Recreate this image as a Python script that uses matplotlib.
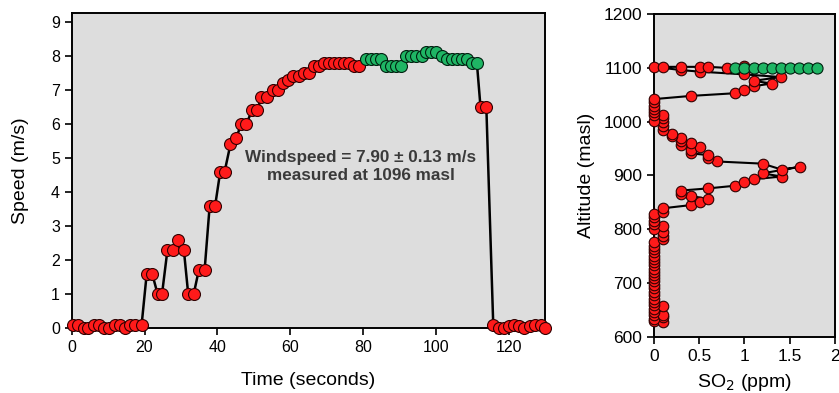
import matplotlib
matplotlib.use("Agg")
import matplotlib.pyplot as plt

plt.rcParams['font.family'] = ['Liberation Sans', 'DejaVu Sans']

# ---- wind speed vs time (left panel) ----
time_red1 = [0.3, 1.7, 3.3, 4.6, 6.1, 7.5, 8.9, 10.3, 11.8, 13.2, 14.6, 16.1, 17.5, 19.2,
             20.6, 22.1, 23.6, 24.8, 26.3, 27.9, 29.2, 30.8, 32.0, 33.5, 34.9, 36.5,
             37.9, 39.4, 40.8, 42.0, 43.6, 45.2, 46.6, 48.0, 49.5, 51.0, 52.1, 53.7,
             55.2, 56.6, 58.0, 59.4, 60.7, 62.3, 63.9, 65.3, 66.6, 68.0, 69.4, 70.8,
             72.1, 73.5, 74.9, 76.3, 77.6, 79.0]
speed_red1 = [0.1, 0.1, 0.0, 0.0, 0.1, 0.1, 0.0, 0.0, 0.1, 0.1, 0.0, 0.1, 0.1, 0.1,
              1.6, 1.6, 1.0, 1.0, 2.3, 2.3, 2.6, 2.3, 1.0, 1.0, 1.7, 1.7,
              3.6, 3.6, 4.6, 4.6, 5.4, 5.6, 6.0, 6.0, 6.4, 6.4, 6.8, 6.8,
              7.0, 7.0, 7.2, 7.3, 7.4, 7.4, 7.5, 7.5, 7.7, 7.7, 7.8, 7.8,
              7.8, 7.8, 7.8, 7.8, 7.7, 7.7]
time_green = [80.8, 82.2, 83.6, 85.0, 86.4, 87.7, 89.1, 90.5, 91.9, 93.3, 94.7, 96.1,
              97.4, 98.8, 100.2, 101.6, 103.0, 104.4, 105.8, 107.2, 108.5, 109.9, 111.3]
speed_green = [7.9, 7.9, 7.9, 7.9, 7.7, 7.7, 7.7, 7.7, 8.0, 8.0, 8.0, 8.0,
               8.1, 8.1, 8.1, 8.0, 7.9, 7.9, 7.9, 7.9, 7.9, 7.8, 7.8]
time_red2 = [112.3, 113.9, 115.8, 117.3, 118.7, 120.1, 121.4, 122.8, 124.2, 125.8,
             127.4, 128.8, 130.1]
speed_red2 = [6.5, 6.5, 0.1, 0.0, 0.0, 0.05, 0.1, 0.05, 0.0, 0.05, 0.1, 0.1, 0.0]

# ---- SO2 vs altitude (right panel) ----
so2_red = [0, 0.1, 0.1, 0, 0, 0.1, 0, 0, 0.1, 0, 0, 0, 0, 0, 0, 0, 0, 0, 0, 0, 0, 0,
           0, 0, 0, 0, 0, 0, 0, 0.1, 0.1, 0.1, 0, 0.1, 0, 0, 0, 0, 0.1, 0.1,
           0.41, 0.51, 0.6, 0.41, 0.3, 0.3, 0.6, 0.9, 1.0, 1.1, 1.41, 1.2, 1.61, 1.41,
           1.2, 0.7, 0.6, 0.6, 0.41, 0.41, 0.51, 0.41, 0.3, 0.3, 0.3, 0.2, 0.2,
           0.1, 0.1, 0.1, 0.1, 0.1, 0, 0, 0, 0, 0, 0, 0,
           0.41, 0.9, 1.0, 1.1, 1.3, 1.1, 1.4, 1.0, 0.51, 0.3,
           0, 0.1, 0.3, 0.51, 0.6, 0.81, 1.0]
alt_red = [630, 628, 636, 634, 640, 641, 646, 652, 657, 660, 665, 671, 677, 684, 691,
           697, 703, 709, 715, 721, 727, 733, 739, 745, 751, 757, 763, 769, 776,
           781, 787, 794, 800, 806, 809, 816, 822, 829, 832, 839,
           845, 851, 856, 862, 866, 872, 876, 881, 887, 893, 898, 904, 916, 911,
           922, 926, 932, 938, 941, 948, 953, 961, 957, 964, 969, 973, 978,
           985, 992, 999, 1006, 1012, 1002, 1012, 1018, 1024, 1030, 1036, 1042,
           1048, 1053, 1059, 1066, 1071, 1076, 1083, 1088, 1093, 1096,
           1102, 1102, 1102, 1102, 1102, 1100, 1104]
so2_green = [0.9, 1.0, 1.1, 1.2, 1.3, 1.4, 1.5, 1.6, 1.7, 1.8]
alt_green = [1100, 1100, 1100, 1100, 1100, 1100, 1100, 1100, 1100, 1100]

RED = '#ff1a1a'
GREEN = '#1fb564'
BG = '#dddddd'

fig = plt.figure(figsize=(8.39, 3.93), dpi=100)

# left panel
ax1 = fig.add_axes([0.0855, 0.165, 0.564, 0.801])
ax1.set_facecolor(BG)
all_t = time_red1 + time_green + time_red2
all_v = speed_red1 + speed_green + speed_red2
ax1.plot(all_t, all_v, color='black', lw=1.8, zorder=2, clip_on=False)
ax1.plot(time_red1, speed_red1, 'o', ms=8.6, mfc=RED, mec='#300000', mew=0.8, zorder=3, clip_on=False)
ax1.plot(time_red2, speed_red2, 'o', ms=8.6, mfc=RED, mec='#300000', mew=0.8, zorder=3, clip_on=False)
ax1.plot(time_green, speed_green, 'o', ms=8.6, mfc=GREEN, mec='#002010', mew=0.8, zorder=4, clip_on=False)
ax1.set_xlim(0, 130)
ax1.set_ylim(0, 9.25)
ax1.set_xticks(range(0, 121, 20))
ax1.set_yticks(range(0, 10))
ax1.tick_params(direction='out', length=5, width=1.2, labelsize=11.5)
ax1.set_xlabel('Time (seconds)', fontsize=14, labelpad=12)
ax1.set_ylabel('Speed (m/s)', fontsize=14, labelpad=16)
ax1.text(79.4, 4.75, 'Windspeed = 7.90 \u00b1 0.13 m/s\nmeasured at 1096 masl',
         ha='center', va='center', fontsize=12.3, fontweight='bold', color='#3a3a3a',
         linespacing=1.25)
for s in ax1.spines.values():
    s.set_linewidth(1.4)

# right panel
ax2 = fig.add_axes([0.7795, 0.143, 0.2157, 0.821])
ax2.set_facecolor(BG)
ax2.plot(so2_red, alt_red, color='black', lw=1.5, zorder=2)
ax2.plot(so2_red, alt_red, 'o', ms=7.6, mfc=RED, mec='#300000', mew=0.8, zorder=3, clip_on=False)
ax2.plot(so2_green, alt_green, color='black', lw=1.5, zorder=2)
ax2.plot(so2_green, alt_green, 'o', ms=8.0, mfc=GREEN, mec='#002010', mew=0.8, zorder=4, clip_on=False)
ax2.set_xlim(0, 2)
ax2.set_ylim(600, 1200)
ax2.set_xticks([0, 0.5, 1, 1.5, 2])
ax2.set_xticklabels(['0', '0.5', '1', '1.5', '2'])
ax2.set_yticks(range(600, 1201, 100))
ax2.tick_params(direction='out', length=5, width=1.2, labelsize=12.5)
ax2.set_xlabel('SO$_2$ (ppm)', fontsize=14, labelpad=6)
ax2.set_ylabel('Altitude (masl)', fontsize=14, labelpad=6)
for s in ax2.spines.values():
    s.set_linewidth(1.4)

fig.savefig('out.png', dpi=100)
